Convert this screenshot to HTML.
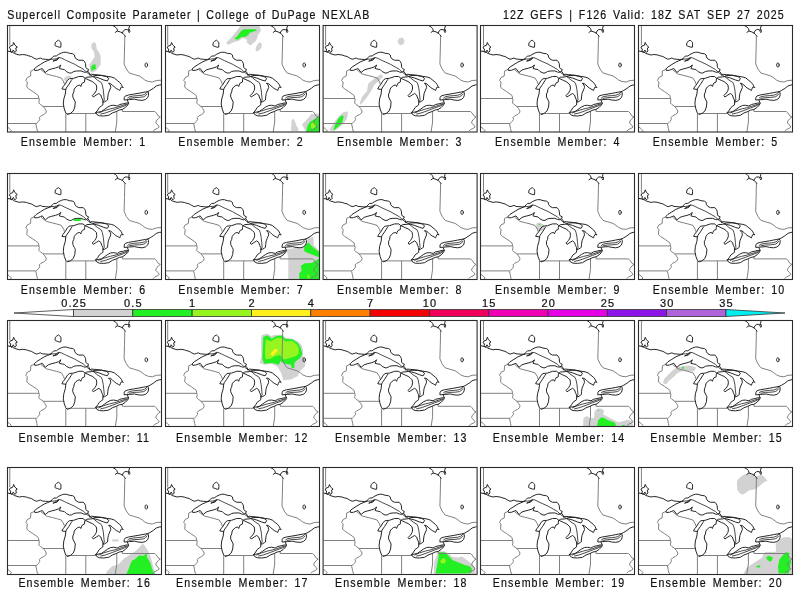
<!DOCTYPE html>
<html><head><meta charset="utf-8"><title>Supercell Composite Parameter</title>
<style>
html,body{margin:0;padding:0;background:#fff;}
svg{display:block;}
text{font-family:"Liberation Sans","DejaVu Sans",sans-serif;fill:#111;stroke:#111;stroke-width:0.2px;}
.hd{font-size:12.5px;letter-spacing:1.25px;word-spacing:1.75px;}
.lab{font-size:12.5px;letter-spacing:1.35px;word-spacing:2.3px;}
.cb{font-size:10px;letter-spacing:1.0px;text-anchor:middle;}
</style></head><body>
<svg width="800" height="600" viewBox="0 0 800 600">
<defs>
<clipPath id="pc0"><rect x="1" y="1" width="153" height="106.0"/></clipPath><clipPath id="pc1"><rect x="1" y="1" width="153" height="105.5"/></clipPath><clipPath id="pc2"><rect x="1" y="1" width="153" height="105.5"/></clipPath><clipPath id="pc3"><rect x="1" y="1" width="153" height="106.5"/></clipPath>
<g id="map" fill="none" stroke-linejoin="round" stroke-linecap="round">
<g stroke="#808080" stroke-width="1"><path d="M483.5,25 L483.5,45"/><path d="M598.5,36.5 L598.2,50 L597.8,64 L600,69 L603,73 L608,74.5 L613,76 L616,78 L618.5,80 L622,81.5 L626,82 L630,80.5 L635,80.2"/><path d="M508,69.5 L504.5,71 L504.25,76 L501,77.5 L499.5,80.5 L501,82 L500.5,87 L502.5,89 L506.5,91.5 L510,94 L512,95.5 L512.5,98 L513,100 L512.5,103 L514,104.5 L516.5,106 L518.5,108.5 L520,111 L519.5,113 L517.5,114.5 L514.5,116 L513,117.5 L513.5,119.5 L512,121.5 L510.5,123 L509.5,124 L510,126 L510.5,128.5 L511,131 L512,132"/><path d="M481,98.5 L512.5,98.5"/><path d="M481,123.5 L509.5,123.5"/><path d="M517,106.5 L537.5,106.5"/><path d="M539.5,114 L539.5,132"/><path d="M541,113.5 L559.5,113.5 L569.5,113.5"/><path d="M559.5,113.5 L559.5,132"/><path d="M590.5,111.5 L590.5,122 L589,132"/><path d="M596,109.5 L596,111.5 L628.5,111.5 L630,113 L632,116 L634,117 L632,118.5 L630,121 L629.5,123 L631.5,125 L633,127 L631,128.5 L628.5,129.5 L627,131"/><path d="M515,70 L520,74 L526,75.5 L530,76.5 L535,78 L537.5,82 L538,84"/><path d="M481,127 L483,128.5 L485,130.5 L484,132"/></g>
<g stroke="#2a2a2a" stroke-width="0.85"><path d="M524.5,59.25 L528,59 L530,58.75 L532.5,57.5 L535,58 L538,59.5 L540,60.5 L548,64.1 L557.4,69.4 L560.4,72.4 L563,74.25 L566,76.1 L568,77.5 L571,80 L575,82.5 L576,85 L577,90 L577.5,95 L578,100 L576.75,102"/><path d="M572.5,113 L577,111 L583.5,109 L590,107.5 L596,105.5 L600.5,104"/><path d="M574.5,114 L579,113 L586,110.5 L592.5,108 L598,106 L601,104.5"/><path d="M601.4,98 L603,96.8 L607,96 L611.8,95.6 L615.8,95.2 L618.2,94.4 L619.8,93.2 L621.4,91.6"/><path d="M603,98.4 L607.8,97.6 L613,97.4 L617.4,96.8 L619.4,95.6 L620.6,94"/></g>
<g stroke="#262626" stroke-width="1.0"><path d="M487.5,42.8 L488.5,45 L491,47.2 L489.5,48 L490,51 L488.5,52.5 L487,50 L485.5,52.5 L484,51.5 L484.5,49 L483,48 L484,46 L486,45.5 Z"/><path d="M481,51 L486,52 L488,53.5 L493,55 L496,54.5 L500,55 L502,55.75 L505,56.5 L507.5,58 L510,59.25 L512,58.75 L514,58 L516,59 L519,59.25 L522,59.5 L524.5,59.25"/><path d="M524.5,59.25 L526,57.5 L527.5,56 L530,56 L532,54.5 L535,53 L537.5,52.25 L540,52.25 L543,53.25 L546.5,53.75 L548.25,55 L548.5,57 L550,59 L552.5,60.25 L557,60.25 L558.5,62 L559.25,63.75 L559.6,67.5 L560.4,68.6 L562.25,69.4 L561.5,71.25 L563,73.1 L563.75,75"/><path d="M524.5,59.25 L521,60.75 L518,62 L514,64.5 L510,67 L508,69 L508.5,70.5 L511.5,70.25 L514,69.25 L516,68.5 L519,72.5 L522,70 L525,69 L529,68 L532,67 L534.5,65 L533,68.5 L536,69.25 L538,69.5 L540,71.5 L543,73 L545,73 L547.5,71.5 L550,71 L554.75,70.9 L557.4,72 L559.25,72.4 L561.5,71.25"/><path d="M527,61 L530,59.5 L532.75,57.75 L531,59.8 Z"/><path d="M536,89 L539.5,89.5 L539,94 L537.5,99 L537,104 L538,109 L539.5,113 L541,114.5 L544,113.5 L547,111 L548.5,107 L549,102 L548,100 L546.5,97 L546.5,94 L547.5,92 L548,89 L549.5,87 L551.5,85.5 L553.5,85 L554.5,86.5 L555,85 L556,83 L558.3,82 L558.3,80 L558.9,78.4 L556.6,76.5 L552.5,76.5 L547.5,78.25 L543,78.75 L541,80.5 L539,84 L537,86.5 Z"/><path d="M539.5,89.5 L540,88 L542.5,84.5 L545,80.5 L545.75,79.5"/><path d="M558.9,78.4 L560.4,77.25 L564.9,76.9 L566.75,76.5 M559.25,78.4 L563.75,80.6 L566,81.5 L568,83 L570,85 L570.5,88 L570,90.5 L568.5,93 L566,95.5 L567,97 L570,95 L572.5,93.5 L574.5,95 L575.5,98 L576.5,100 L576.75,102 L576.5,105 L575,106 L573,107.5 L571.5,110 L569.5,112.5"/><path d="M563.75,75 L564.9,74.25 L568.6,74.6 L575,75.25 L580,76.25 L585,77 L588,78 L591,80.5 L593.5,82.5 L595,84.5 L596,86.5 L597,87.5 L595,87 L594,89 L593.5,90.5 L592,89.5 L590,88.5 L588,87 L586,85 L584,83.5 L582.25,83.25 L584,85 L584.5,87.5 L583,91 L582,93.5 L581.5,97 L581.25,100 L580.5,100.5 L578,102 L576.75,102"/><path d="M567,76.5 L572.5,78 L577.5,80 L581,81 L582.5,78.5 L580,76.5 L575,75.5 L569,75.5 Z"/><path d="M569.5,112.5 L570.5,114.5 L573,115.75 L577.5,116 L582.5,115.25 L586,113 L590,111.5 L593,110 L596,109.5 L599,107.5 L601.5,105 L602.25,103 L600,103 L597,103.75 L593.5,104.5 L591,106 L587.5,105.25 L584.5,105.5 L581.5,107 L578,109.5 L575,111.5 L572.5,112 L569.5,112.5 Z"/><path d="M598.2,97.2 L599,96 L602.2,95 L607,94.2 L611.8,93.4 L615.8,92.6 L619,92 L621.4,91.6 L622.2,93 L622.2,95.2 L621.4,97.6 L619,99.6 L615.8,100.4 L611.8,100 L608.2,99.2 L603,99.6 L598.2,100 Z"/><path d="M601,100 L602.25,103"/><path d="M621.4,91.6 L623.8,90.4 L627,88.4 L630,86 L633,85 L635,84.8"/><path d="M586.4,25.5 L589,27 L590.5,28.5 L591.25,30.75 L589,32.4 M591.25,31.1 L593.9,31.9 L596.1,33 L597.6,34.5 L599.1,36.4 M596.1,33 L596.9,31.1 L598.75,29.6 L601,29.6 L602.1,30.4 L602.5,28.9 L602.9,27 L603.6,25.7 M602.1,30.4 L603.25,29.6 L603.6,31.5 L602.9,32.6 L602.3,31.5"/><path d="M528.7,45.1 L529.1,42.5 L530.3,41.4 L532.2,40.2 L533.6,41.4 L534.6,42.3 L534.7,44.2 L534.5,47.2 L532.9,47.2 L531,46.5 L529.6,46 Z"/></g>
<ellipse cx="620" cy="65" rx="1.3" ry="2.1" stroke="#222" stroke-width="0.9"/>
</g>
</defs>
<rect width="800" height="600" fill="#fff"/>
<text transform="scale(0.85,1)" x="8.53" y="19" class="hd">Supercell Composite Parameter | College of DuPage NEXLAB</text>
<text transform="scale(0.85,1)" x="591.76" y="19" class="hd" style="word-spacing:2.1px">12Z GEFS | F126 Valid: 18Z SAT SEP 27 2025</text>
<g transform="translate(7,25)" clip-path="url(#pc0)"><g transform="translate(-7,-25)">
<polygon points="92,43.3 94.7,42 96,44 96.7,48.7 99.3,52.7 100.7,56 100.7,64.7 98.7,67.3 96.7,70 92.7,72.7 90,71.3 89.3,64.7 92,60.7 94.7,56.7 94,52 91.3,48 91.3,45.3" fill="#d2d2d2"/>
<polygon points="91.3,66 93.3,64.7 95.3,64 96,68.7 93.3,70 91.3,70.7" fill="#22f022"/>
<polygon points="64.4,77.5 66.25,76.4 69.25,75.6 71.5,76.4 70.75,77.9 68.5,78.6 67.4,80.5 66.25,81.25 64.75,80.9 64,79.4" fill="#d2d2d2"/>
<use href="#map" transform="translate(-473.7,0)"/>
</g></g>
<rect x="7.5" y="25.5" width="154" height="106.5" fill="none" stroke="#2b2b2b" stroke-width="1.1"/>
<text transform="scale(0.85,1)" x="24.35" y="146" class="lab">Ensemble Member: 1</text>
<g transform="translate(165,25)" clip-path="url(#pc0)"><g transform="translate(-165,-25)">
<polygon points="226.1,42.8 230.9,38.1 235.6,32.3 240.3,26 259.2,26 260.8,29.2 260.5,31.8 258.2,34.4 257.1,38.6 255.5,41.3 250.3,45.5 246.6,42.3 247.1,39.7 243,38.1 238.7,40.7 233.5,42.3 228.2,45" fill="#d2d2d2"/>
<polygon points="234,38.1 236.6,37.1 240.8,31.3 243.5,29.2 255.5,29.2 257.1,30.5 254.5,31.3 249.2,32.9 248.7,34.7 245.6,36.8 240.8,37.3 238.2,39.4 236.6,39.4" fill="#22f022"/>
<polygon points="256.6,46 259.2,42.3 261.8,43.4 261.3,48.1 258.7,50.7 256.1,51.2 255.5,49.1" fill="#d2d2d2"/>
<polygon points="291,131 291.5,121 293.25,118.25 295,121.5 296.5,126 298.5,128.5 298,131" fill="#d2d2d2"/>
<polygon points="302,124.5 305.5,121 309,117 311,114.25 315,114 320,113.5 320,132 306,132" fill="#d2d2d2"/>
<polygon points="306.5,131 307.5,126 310,122 314,119.5 318,116.5 320,116 320,132 306,132" fill="#22f022"/>
<polygon points="311,124 313,122 316,124 315.5,127 312.5,129 311,127.5" fill="#96f51e"/>
<use href="#map" transform="translate(-315.8,0)"/>
</g></g>
<rect x="165.5" y="25.5" width="154" height="106.5" fill="none" stroke="#2b2b2b" stroke-width="1.1"/>
<text transform="scale(0.85,1)" x="209.82" y="146" class="lab">Ensemble Member: 2</text>
<g transform="translate(322.6,25)" clip-path="url(#pc0)"><g transform="translate(-322.6,-25)">
<polygon points="397.6,41 399.5,38 402.5,37.6 404.4,40 404,43.5 401,45.3 398.5,44" fill="#d2d2d2"/>
<polygon points="359.7,103.6 361.8,97.3 367,91 368.1,83.7 374.4,78.4 380.7,74.2 383.3,76.3 379.6,80.5 374.4,84.7 371.2,91 367,97.3 362.8,102.6 360.7,104.7" fill="#d2d2d2"/>
<polygon points="329.2,129.9 333.4,123.6 338.7,116.2 343.9,112 348.1,111.5 347.1,118.3 343.9,123.6 337.6,128.8 333.4,130.9" fill="#d2d2d2"/>
<polygon points="333.4,129.9 335.5,123.6 338.7,118.3 341.8,115.2 343.9,116.2 341.8,123.6 337.6,127.2 334.5,129.9" fill="#22f022"/>
<use href="#map" transform="translate(-157.9,0)"/>
</g></g>
<rect x="323.1" y="25.5" width="154" height="106.5" fill="none" stroke="#2b2b2b" stroke-width="1.1"/>
<text transform="scale(0.85,1)" x="396.59" y="146" class="lab">Ensemble Member: 3</text>
<g transform="translate(480,25)" clip-path="url(#pc0)"><g transform="translate(-480,-25)">
<use href="#map" transform="translate(0,0)"/>
</g></g>
<rect x="480.5" y="25.5" width="154" height="106.5" fill="none" stroke="#2b2b2b" stroke-width="1.1"/>
<text transform="scale(0.85,1)" x="582.47" y="146" class="lab">Ensemble Member: 4</text>
<g transform="translate(638,25)" clip-path="url(#pc0)"><g transform="translate(-638,-25)">
<use href="#map" transform="translate(157.9,0)"/>
</g></g>
<rect x="638.5" y="25.5" width="154" height="106.5" fill="none" stroke="#2b2b2b" stroke-width="1.1"/>
<text transform="scale(0.85,1)" x="768.06" y="146" class="lab">Ensemble Member: 5</text>
<g transform="translate(7,173)" clip-path="url(#pc1)"><g transform="translate(-7,-173)">
<g transform="translate(7,173) scale(0.193750)">
<polygon points="340,243 355,236 375,236 390,242 375,248 350,249" fill="#22f022"/>
</g>
<use href="#map" transform="translate(-473.7,147.4)"/>
</g></g>
<rect x="7.5" y="173.5" width="154" height="106" fill="none" stroke="#2b2b2b" stroke-width="1.1"/>
<text transform="scale(0.85,1)" x="24.35" y="294" class="lab">Ensemble Member: 6</text>
<g transform="translate(165,173)" clip-path="url(#pc1)"><g transform="translate(-165,-173)">
<polygon points="286.7,249.2 295,248 302.5,247.9 306.7,242.5 307.5,238.3 313.3,236.7 313.75,245 319.2,250.8 320,251 320,280 288.3,280 288.3,258.3" fill="#d2d2d2"/>
<polygon points="304.2,246.7 308.3,242.5 313.3,247.5 316.7,250 320,253 320,257.5 313.3,255 306.7,252.5 304.2,251.25" fill="#22f022"/>
<polygon points="300.8,265.8 305,263.3 311.7,262.9 316.7,260 320,258 320,280 299.2,280 299.2,273.3 301.7,270.8" fill="#22f022"/>
<polygon points="307.5,275 308.75,274.2 309.6,278.3 307.5,278.3" fill="#96f51e"/>
<use href="#map" transform="translate(-315.8,147.4)"/>
</g></g>
<rect x="165.5" y="173.5" width="154" height="106" fill="none" stroke="#2b2b2b" stroke-width="1.1"/>
<text transform="scale(0.85,1)" x="209.82" y="294" class="lab">Ensemble Member: 7</text>
<g transform="translate(322.6,173)" clip-path="url(#pc1)"><g transform="translate(-322.6,-173)">
<use href="#map" transform="translate(-157.9,147.4)"/>
</g></g>
<rect x="323.1" y="173.5" width="154" height="106" fill="none" stroke="#2b2b2b" stroke-width="1.1"/>
<text transform="scale(0.85,1)" x="396.59" y="294" class="lab">Ensemble Member: 8</text>
<g transform="translate(480,173)" clip-path="url(#pc1)"><g transform="translate(-480,-173)">
<g transform="translate(481,173) scale(0.193750)">
<polygon points="285,262 300,255 320,265 330,285 315,298 295,300 285,285" fill="#d2d2d2"/>
<polygon points="297,263 305,262 306,268 298,269" fill="#22f022"/>
</g>
<use href="#map" transform="translate(0,147.4)"/>
</g></g>
<rect x="480.5" y="173.5" width="154" height="106" fill="none" stroke="#2b2b2b" stroke-width="1.1"/>
<text transform="scale(0.85,1)" x="582.47" y="294" class="lab">Ensemble Member: 9</text>
<g transform="translate(638,173)" clip-path="url(#pc1)"><g transform="translate(-638,-173)">
<use href="#map" transform="translate(157.9,147.4)"/>
</g></g>
<rect x="638.5" y="173.5" width="154" height="106" fill="none" stroke="#2b2b2b" stroke-width="1.1"/>
<text transform="scale(0.85,1)" x="768.06" y="294" class="lab">Ensemble Member: 10</text>
<g transform="translate(7,320)" clip-path="url(#pc2)"><g transform="translate(-7,-320)">
<use href="#map" transform="translate(-473.7,294.8)"/>
</g></g>
<rect x="7.5" y="320.5" width="154" height="106" fill="none" stroke="#2b2b2b" stroke-width="1.1"/>
<text transform="scale(0.85,1)" x="21.65" y="442" class="lab">Ensemble Member: 11</text>
<g transform="translate(165,320)" clip-path="url(#pc2)"><g transform="translate(-165,-320)">
<polygon points="261.5,335.2 266.7,333.5 271,336.1 275.3,334.8 283.1,335.2 285.7,337.8 292.7,338.7 297.9,341.3 301.3,344.7 303.1,349.9 303.1,356 305.7,360.3 304.8,366.4 299.6,371.6 297.9,375.9 290.9,379.4 283.1,380.3 281.4,373.3 277.1,366.4 271.9,363.8 264.1,364.7 259.7,362.9 261.5,356 261,343" fill="#d2d2d2"/>
<polygon points="263.2,336.9 267.5,335.2 271.9,338.7 276.2,336.1 282.3,335.6 284.9,338.7 292.7,339.5 297.9,343 300.5,347.3 302.2,353.4 300.5,357.7 297,360.3 294.4,362.9 294.4,368.1 291.8,368.1 290.9,364.7 284.9,363.8 280.5,361.2 278.8,364.7 275.3,363.8 271,362.9 264.1,363.8 262.3,358.6 262.8,347.3 263.2,340.4" fill="#22f022"/>
<polygon points="265.8,339.5 271,341.3 277.1,337.8 282.3,338.2 284.9,341.3 292.7,341.3 297,344.7 298.7,348.2 298.7,353.4 296.1,356 290.9,357.7 284,359.5 279.7,355.1 275.3,356 271,358.6 265.8,359.5 264.9,354.3 265.4,345.6" fill="#96f51e"/>
<polygon points="270.1,354.3 275.3,348.2 277.9,350.4 272.7,356" fill="#fff01e"/>
<use href="#map" transform="translate(-315.8,294.8)"/>
</g></g>
<rect x="165.5" y="320.5" width="154" height="106" fill="none" stroke="#2b2b2b" stroke-width="1.1"/>
<text transform="scale(0.85,1)" x="207.18" y="442" class="lab">Ensemble Member: 12</text>
<g transform="translate(322.6,320)" clip-path="url(#pc2)"><g transform="translate(-322.6,-320)">
<use href="#map" transform="translate(-157.9,294.8)"/>
</g></g>
<rect x="323.1" y="320.5" width="154" height="106" fill="none" stroke="#2b2b2b" stroke-width="1.1"/>
<text transform="scale(0.85,1)" x="394.12" y="442" class="lab">Ensemble Member: 13</text>
<g transform="translate(480,320)" clip-path="url(#pc2)"><g transform="translate(-480,-320)">
<polygon points="583.1,426 583.5,418.1 587,416 589.8,418.1 594,418.1 594.7,411.1 597.5,408.6 601,408.6 604.1,410.4 603.1,414.2 608,417 612.9,419.5 618.5,422.3 623.4,420.9 627.6,419.8 631.8,420.9 633.2,426" fill="#d2d2d2"/>
<polygon points="597.1,426 598.2,420.2 601,417.4 603.8,417.7 608,420.2 613.6,421.9 615.7,423.7 615.7,426" fill="#22f022"/>
<polygon points="622,425.1 624.8,425.1 624.8,426 622,426" fill="#22f022"/>
<polygon points="598,410 599,410 599,411 598,411" fill="#22f022"/>
<use href="#map" transform="translate(0,294.8)"/>
</g></g>
<rect x="480.5" y="320.5" width="154" height="106" fill="none" stroke="#2b2b2b" stroke-width="1.1"/>
<text transform="scale(0.85,1)" x="579.82" y="442" class="lab">Ensemble Member: 14</text>
<g transform="translate(638,320)" clip-path="url(#pc2)"><g transform="translate(-638,-320)">
<polygon points="663.25,383.5 664,379 668.5,374.5 673,370 677.5,367 683.5,365.9 689.5,365.5 696.25,367.4 694,371.5 690.25,371.1 683.5,370.75 677.5,373 673,377.5 668.5,381.25 666.25,384.25" fill="#d2d2d2"/>
<polygon points="682,367 683.8,367 683.8,368.8 682,368.8" fill="#22f022"/>
<use href="#map" transform="translate(157.9,294.8)"/>
</g></g>
<rect x="638.5" y="320.5" width="154" height="106" fill="none" stroke="#2b2b2b" stroke-width="1.1"/>
<text transform="scale(0.85,1)" x="765.12" y="442" class="lab">Ensemble Member: 15</text>
<g transform="translate(7,467)" clip-path="url(#pc3)"><g transform="translate(-7,-467)">
<polygon points="106.4,572 112.1,566.3 117.8,564.9 124.2,558.5 130.6,554.2 134.9,551.4 139.2,547.8 142.7,543.5 145.6,547.1 148.4,551.4 150.6,556.4 152,562.1 153.4,567 154.9,572 155,574 106.4,574" fill="#d2d2d2"/>
<polygon points="112.1,539.6 118.5,539.3 118.5,541.4 112.1,541.4" fill="#d2d2d2"/>
<polygon points="126.4,574 128.5,569.2 130.6,563.5 132.1,560.6 134.9,559.2 137.8,556.4 139.9,555.3 142,556 144.9,554.9 145.6,553.2 147,553.9 146.7,557.1 148.4,559.2 150.6,563.5 152,568.5 153.4,572 154.9,574" fill="#22f022"/>
<use href="#map" transform="translate(-473.7,442)"/>
</g></g>
<rect x="7.5" y="467.5" width="154" height="107" fill="none" stroke="#2b2b2b" stroke-width="1.1"/>
<text transform="scale(0.85,1)" x="21.65" y="587" class="lab">Ensemble Member: 16</text>
<g transform="translate(165,467)" clip-path="url(#pc3)"><g transform="translate(-165,-467)">
<use href="#map" transform="translate(-315.8,442)"/>
</g></g>
<rect x="165.5" y="467.5" width="154" height="107" fill="none" stroke="#2b2b2b" stroke-width="1.1"/>
<text transform="scale(0.85,1)" x="207.18" y="587" class="lab">Ensemble Member: 17</text>
<g transform="translate(322.6,467)" clip-path="url(#pc3)"><g transform="translate(-322.6,-467)">
<polygon points="433.6,574.2 434.3,561.6 437.6,553 439.6,551.3 444.9,551.3 448.2,553.6 452.8,556.9 458.1,557.6 462.1,556.6 466.1,559.6 471.4,563.6 474.7,566.2 476,574.2" fill="#d2d2d2"/>
<polygon points="435.6,573.5 436.9,566.2 438.3,558.3 438.9,552.3 444.9,552.3 448.2,555.6 452.8,560.2 458.1,562.2 464.8,564.9 470,566.2 472,568.9 471.4,572.8 464.8,573.5" fill="#22f022"/>
<polygon points="440.2,560.9 442.9,558.3 444.9,558.6 445.9,561.6 444.2,563.6 441.2,563.2" fill="#96f51e"/>
<use href="#map" transform="translate(-157.9,442)"/>
</g></g>
<rect x="323.1" y="467.5" width="154" height="107" fill="none" stroke="#2b2b2b" stroke-width="1.1"/>
<text transform="scale(0.85,1)" x="394.12" y="587" class="lab">Ensemble Member: 18</text>
<g transform="translate(480,467)" clip-path="url(#pc3)"><g transform="translate(-480,-467)">
<use href="#map" transform="translate(0,442)"/>
</g></g>
<rect x="480.5" y="467.5" width="154" height="107" fill="none" stroke="#2b2b2b" stroke-width="1.1"/>
<text transform="scale(0.85,1)" x="579.82" y="587" class="lab">Ensemble Member: 19</text>
<g transform="translate(638,467)" clip-path="url(#pc3)"><g transform="translate(-638,-467)">
<polygon points="737.5,480 741.25,476.25 745,474 750,474 753.75,475 756.25,476.25 758.75,475.6 761.25,475 763.75,476.25 766.25,479.4 767.5,480.6 763.75,482.5 760,485.6 756.25,488.75 753.75,489.4 748.75,490.6 745.6,493.1 742.5,494.7 739.4,493.1 737.2,489.4 736.9,482.5" fill="#d2d2d2"/>
<polygon points="743.25,574 747,567.5 751.5,564.5 756,561.5 762,557.75 763.5,554 765.3,552 776,551.7 775.7,544.3 778,540.3 783.3,537.3 789.3,537 792,539 792,574" fill="#d2d2d2"/>
<polygon points="778.7,573.5 778,567 779.3,559.7 782,556.3 784.7,553 786.7,552.3 790,553.3 788.7,555 789.3,559 791.3,561.7 790,566.3 789.3,571 788.7,573.5" fill="#22f022"/>
<polygon points="766,557 769.3,556 772.7,557.3 772,560.3 770,561.7 767.3,559.7" fill="#22f022"/>
<polygon points="756,566.3 758.7,565.3 760.7,566 759.3,567.7 756.7,567" fill="#22f022"/>
<use href="#map" transform="translate(157.9,442)"/>
</g></g>
<rect x="638.5" y="467.5" width="154" height="107" fill="none" stroke="#2b2b2b" stroke-width="1.1"/>
<text transform="scale(0.85,1)" x="765.12" y="587" class="lab">Ensemble Member: 20</text>
<polygon points="14,313.0 73.5,309.5 73.5,316.5" fill="#fff" stroke="#333" stroke-width="0.8"/>
<rect x="73.50" y="309.5" width="59.32" height="7.0" fill="#d2d2d2" stroke="#333" stroke-width="0.8"/>
<rect x="132.82" y="309.5" width="59.32" height="7.0" fill="#22f022" stroke="#333" stroke-width="0.8"/>
<rect x="192.14" y="309.5" width="59.32" height="7.0" fill="#96f51e" stroke="#333" stroke-width="0.8"/>
<rect x="251.45" y="309.5" width="59.32" height="7.0" fill="#fff01e" stroke="#333" stroke-width="0.8"/>
<rect x="310.77" y="309.5" width="59.32" height="7.0" fill="#ff7f00" stroke="#333" stroke-width="0.8"/>
<rect x="370.09" y="309.5" width="59.32" height="7.0" fill="#f50000" stroke="#333" stroke-width="0.8"/>
<rect x="429.41" y="309.5" width="59.32" height="7.0" fill="#f0005a" stroke="#333" stroke-width="0.8"/>
<rect x="488.73" y="309.5" width="59.32" height="7.0" fill="#f000b4" stroke="#333" stroke-width="0.8"/>
<rect x="548.05" y="309.5" width="59.32" height="7.0" fill="#e600e6" stroke="#333" stroke-width="0.8"/>
<rect x="607.36" y="309.5" width="59.32" height="7.0" fill="#8c14e6" stroke="#333" stroke-width="0.8"/>
<rect x="666.68" y="309.5" width="59.32" height="7.0" fill="#b064dc" stroke="#333" stroke-width="0.8"/>
<polygon points="726.0,309.5 726.0,316.5 785,313.0" fill="#00f0f0" stroke="#333" stroke-width="0.8"/>
<text transform="scale(1.1,1)" x="67.36" y="307.5" class="cb">0.25</text>
<text transform="scale(1.1,1)" x="121.29" y="307.5" class="cb">0.5</text>
<text transform="scale(1.1,1)" x="175.21" y="307.5" class="cb">1</text>
<text transform="scale(1.1,1)" x="229.14" y="307.5" class="cb">2</text>
<text transform="scale(1.1,1)" x="283.07" y="307.5" class="cb">4</text>
<text transform="scale(1.1,1)" x="336.99" y="307.5" class="cb">7</text>
<text transform="scale(1.1,1)" x="390.92" y="307.5" class="cb">10</text>
<text transform="scale(1.1,1)" x="444.84" y="307.5" class="cb">15</text>
<text transform="scale(1.1,1)" x="498.77" y="307.5" class="cb">20</text>
<text transform="scale(1.1,1)" x="552.69" y="307.5" class="cb">25</text>
<text transform="scale(1.1,1)" x="606.62" y="307.5" class="cb">30</text>
<text transform="scale(1.1,1)" x="660.55" y="307.5" class="cb">35</text>
</svg>
</body></html>
